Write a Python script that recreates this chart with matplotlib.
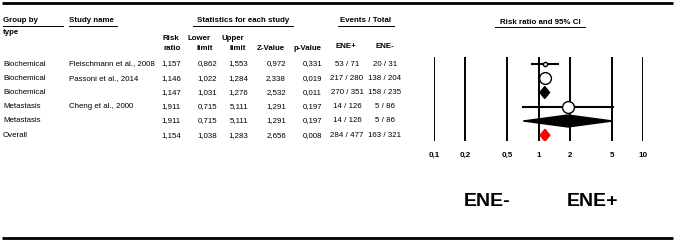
import matplotlib
matplotlib.use("Agg")
import matplotlib.pyplot as plt
from matplotlib.patches import Polygon
from matplotlib.transforms import blended_transform_factory

plt.rcParams["font.family"] = ["Liberation Sans", "DejaVu Sans"]

# data
groups = ["Biochemical", "Biochemical", "Biochemical", "Metastasis", "Metastasis", "Overall"]
studies = ["Fleischmann et al., 2008", "Passoni et al., 2014", "", "Cheng et al., 2000", "", ""]
risk_ratio = [1.157, 1.146, 1.147, 1.911, 1.911, 1.154]
lower_limit = [0.862, 1.022, 1.031, 0.715, 0.715, 1.038]
upper_limit = [1.553, 1.284, 1.276, 5.111, 5.111, 1.283]
z_value = [0.972, 2.338, 2.532, 1.291, 1.291, 2.656]
p_value = [0.331, 0.019, 0.011, 0.197, 0.197, 0.008]
events_pos = ["53 / 71", "217 / 280", "270 / 351", "14 / 126", "14 / 126", "284 / 477"]
events_neg = ["20 / 31", "138 / 204", "158 / 235", "5 / 86", "5 / 86", "163 / 321"]
row_kind = ["study", "study", "subtotal", "study", "subtotal", "overall"]
ticks = [0.1, 0.2, 0.5, 1, 2, 5, 10]
tick_labels = ["0,1", "0,2", "0,5", "1", "2", "5", "10"]

# marker size per row (study weight look), in points
marker_size = [3, 8.5, 0, 8.5, 0, 0]
kind_color = {"subtotal": "black", "overall": "red"}

W, H = 675, 241
fig = plt.figure(figsize=(W / 100, H / 100), dpi=100)
bg = fig.add_axes([0, 0, 1, 1])
bg.set_xlim(0, W)
bg.set_ylim(H, 0)
bg.axis("off")

# forest panel, pixel box 434..643 x 57..141
x0, x1, y0, y1 = 434, 643, 57, 141
ax = fig.add_axes([x0 / W, (H - y1) / H, (x1 - x0) / W, (y1 - y0) / H])
ax.set_xscale("log")
ax.set_xlim(0.1, 10)
row_px = 14.25
first_row = 64
ax.set_ylim((y1 - first_row) / row_px, -(first_row - y0) / row_px)
for s in ax.spines.values():
    s.set_visible(False)
ax.set_yticks([])
ax.set_xticks(ticks)
ax.set_xticklabels(tick_labels, fontsize=5.8, fontweight="bold")
ax.minorticks_off()
ax.tick_params(axis="x", length=0, pad=8)
ax.patch.set_alpha(0)

for t in ticks:
    ax.axvline(t, color="black", lw=1.4, zorder=1)

half_h = 0.42
for i, kind in enumerate(row_kind):
    if kind == "study":
        ax.plot([lower_limit[i], upper_limit[i]], [i, i], color="black", lw=1.5, zorder=2)
        ax.plot(risk_ratio[i], i, "o", ms=marker_size[i], mfc="white", mec="black",
                mew=1.0, zorder=3)
    else:
        pts = [(lower_limit[i], i), (risk_ratio[i], i - half_h),
               (upper_limit[i], i), (risk_ratio[i], i + half_h)]
        ax.add_patch(Polygon(pts, closed=True, color=kind_color[kind], zorder=3))

# table text, rows share the forest y positions
tr = blended_transform_factory(bg.transData, ax.transData)
fs = 5.7


def fmt(v):
    return f"{v:.3f}".replace(".", ",")


for i in range(len(groups)):
    bg.text(3, i, groups[i], transform=tr, fontsize=fs, va="center", ha="left")
    bg.text(69, i, studies[i], transform=tr, fontsize=fs, va="center", ha="left")
    bg.text(181, i, fmt(risk_ratio[i]), transform=tr, fontsize=fs, va="center", ha="right")
    bg.text(217, i, fmt(lower_limit[i]), transform=tr, fontsize=fs, va="center", ha="right")
    bg.text(248, i, fmt(upper_limit[i]), transform=tr, fontsize=fs, va="center", ha="right")
    bg.text(286, i, fmt(z_value[i]), transform=tr, fontsize=fs, va="center", ha="right")
    bg.text(322, i, fmt(p_value[i]), transform=tr, fontsize=fs, va="center", ha="right")
    bg.text(347, i, events_pos[i], transform=tr, fontsize=fs, va="center", ha="center")
    bg.text(385, i, events_neg[i], transform=tr, fontsize=fs, va="center", ha="center")

# headers
hb = dict(fontsize=fs, fontweight="bold", va="center")
bg.text(3, 21, "Group by", ha="left", **hb)
bg.text(3, 32, "type", ha="left", **hb)
bg.text(69, 21, "Study name", ha="left", **hb)
bg.text(243, 21, "Statistics for each study", ha="center", **hb)
bg.text(366, 21, "Events / Total", ha="center", **hb)
bg.text(540, 22, "Risk ratio and 95% CI", ha="center", **hb)
for xr, top, bottom in [(181, "Risk", "ratio"), (213, "Lower", "limit"), (246, "Upper", "limit")]:
    bg.text(xr - 2, 38, top, ha="right", **hb)
    bg.text(xr, 48, bottom, ha="right", **hb)
bg.text(285, 48, "Z-Value", ha="right", **hb)
bg.text(322, 48, "p-Value", ha="right", **hb)
bg.text(346, 47, "ENE+", ha="center", **hb)
bg.text(385, 47, "ENE-", ha="center", **hb)

for xa, xb, y in [(3, 63, 26), (69, 117, 26), (193, 293, 26), (338, 394, 26), (495, 585, 27)]:
    bg.plot([xa, xb], [y, y], color="black", lw=0.7)

bg.text(487, 202, "ENE-", fontsize=14, fontweight="bold", ha="center", va="center")
bg.text(592, 202, "ENE+", fontsize=14, fontweight="bold", ha="center", va="center")

# frame lines
bg.plot([2, 673], [2.8, 2.8], color="black", lw=2.0, solid_capstyle="butt")
bg.plot([2, 673], [237.8, 237.8], color="black", lw=2.0, solid_capstyle="butt")

fig.savefig("out.png", dpi=100)
